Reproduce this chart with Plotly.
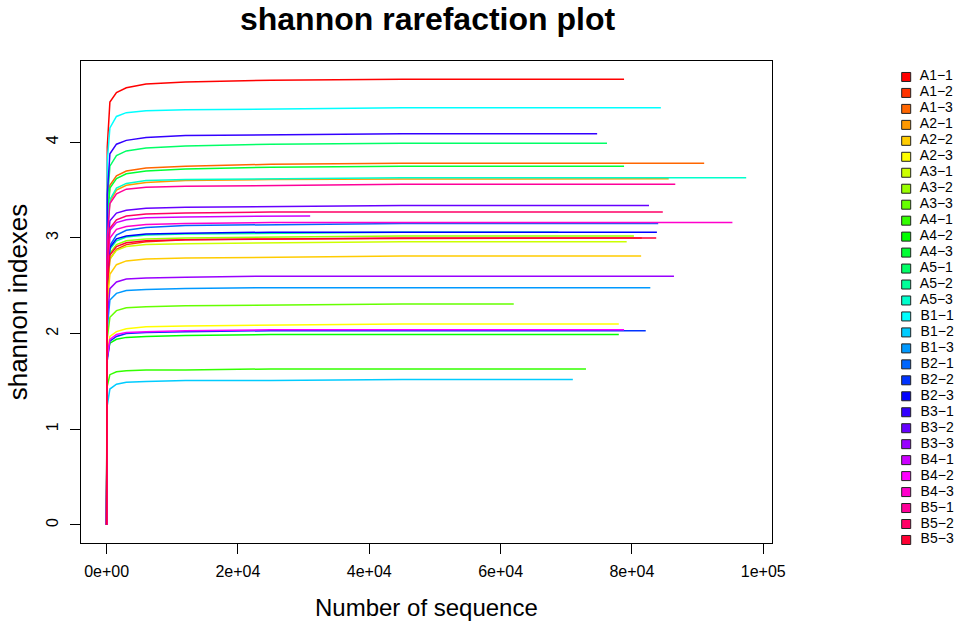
import colorsys
import plotly.graph_objects as go

# sample names, in legend order
names = ["A1-1", "A1-2", "A1-3", "A2-1", "A2-2", "A2-3", "A3-1", "A3-2", "A3-3",
         "A4-1", "A4-2", "A4-3", "A5-1", "A5-2", "A5-3",
         "B1-1", "B1-2", "B1-3", "B2-1", "B2-2", "B2-3", "B3-1", "B3-2", "B3-3",
         "B4-1", "B4-2", "B4-3", "B5-1", "B5-2", "B5-3"]

depths = [0, 100, 500, 1500, 3000, 6000, 12000, 25000, 45000]

# shannon index at each depth, one list per sample
shannon = {
    "A1-1": [0, 3.95, 4.42, 4.52, 4.57, 4.61, 4.63, 4.65, 4.66],
    "A1-2": [0, 2.45, 2.78, 2.88, 2.93, 2.96, 2.98, 2.99, 2.995],
    "A1-3": [0, 3.20, 3.55, 3.65, 3.70, 3.73, 3.75, 3.77, 3.78],
    "A2-1": [0, 3.05, 3.38, 3.50, 3.55, 3.58, 3.60, 3.61, 3.615],
    "A2-2": [0, 2.30, 2.62, 2.72, 2.76, 2.78, 2.79, 2.80, 2.81],
    "A2-3": [0, 1.80, 1.97, 2.02, 2.05, 2.07, 2.08, 2.09, 2.10],
    "A3-1": [0, 2.45, 2.78, 2.87, 2.91, 2.93, 2.94, 2.95, 2.96],
    "A3-2": [0, 2.50, 2.84, 2.93, 2.97, 2.99, 3.00, 3.01, 3.02],
    "A3-3": [0, 1.95, 2.17, 2.24, 2.27, 2.28, 2.29, 2.30, 2.31],
    "A4-1": [0, 1.45, 1.57, 1.60, 1.61, 1.62, 1.62, 1.63, 1.63],
    "A4-2": [0, 1.75, 1.90, 1.94, 1.96, 1.97, 1.98, 1.99, 1.99],
    "A4-3": [0, 3.15, 3.52, 3.62, 3.67, 3.70, 3.72, 3.74, 3.75],
    "A5-1": [0, 3.35, 3.75, 3.86, 3.91, 3.94, 3.96, 3.98, 3.99],
    "A5-2": [0, 2.55, 2.88, 2.97, 3.01, 3.03, 3.04, 3.05, 3.06],
    "A5-3": [0, 3.05, 3.40, 3.52, 3.57, 3.60, 3.61, 3.62, 3.63],
    "B1-1": [0, 3.80, 4.15, 4.27, 4.31, 4.33, 4.34, 4.35, 4.36],
    "B1-2": [0, 1.25, 1.42, 1.47, 1.49, 1.50, 1.51, 1.51, 1.52],
    "B1-3": [0, 2.05, 2.35, 2.42, 2.45, 2.46, 2.47, 2.48, 2.48],
    "B2-1": [0, 2.55, 2.92, 3.03, 3.08, 3.11, 3.13, 3.14, 3.15],
    "B2-2": [0, 1.72, 1.92, 1.97, 2.00, 2.01, 2.02, 2.03, 2.03],
    "B2-3": [0, 2.55, 2.90, 2.99, 3.02, 3.04, 3.05, 3.06, 3.06],
    "B3-1": [0, 3.45, 3.88, 3.98, 4.02, 4.05, 4.07, 4.08, 4.09],
    "B3-2": [0, 2.85, 3.18, 3.26, 3.29, 3.31, 3.32, 3.33, 3.34],
    "B3-3": [0, 2.15, 2.47, 2.54, 2.57, 2.58, 2.59, 2.60, 2.60],
    "B4-1": [0, 2.75, 3.08, 3.16, 3.19, 3.21, 3.22, 3.23],
    "B4-2": [0, 1.75, 1.94, 1.99, 2.01, 2.02, 2.03, 2.04, 2.04],
    "B4-3": [0, 2.65, 3.00, 3.09, 3.12, 3.14, 3.15, 3.16, 3.16],
    "B5-1": [0, 3.00, 3.36, 3.46, 3.51, 3.53, 3.54, 3.55, 3.56],
    "B5-2": [0, 2.75, 3.10, 3.19, 3.23, 3.25, 3.26, 3.27, 3.27],
    "B5-3": [0, 2.50, 2.82, 2.91, 2.95, 2.97, 2.98, 2.99, 3.00],
}

# last depth of each curve and its final index
end_depth = [78800, 81500, 91000, 85600, 81400, 78000, 79200, 80300, 62000,
             73000, 78000, 78800, 76200, 68800, 97400,
             84400, 71000, 82800, 84000, 82100, 83800, 74700, 82600, 86400,
             31000, 78800, 95300, 86600, 84700, 83700]
end_value = [4.66, 3.00, 3.78, 3.62, 2.81, 2.10, 2.96, 3.02, 2.31,
             1.63, 1.99, 3.75, 3.99, 3.06, 3.63,
             4.36, 1.52, 2.48, 3.15, 2.03, 3.06, 4.09, 3.34, 2.60,
             3.23, 2.04, 3.16, 3.56, 3.27, 3.00]

x_ticks = [0, 20000, 40000, 60000, 80000, 100000]
x_ticktext = ["0e+00", "2e+04", "4e+04", "6e+04", "8e+04", "1e+05"]
y_ticks = [0, 1, 2, 3, 4]

# R's rainbow(30)
def rainbow(n):
    out = []
    for i in range(n):
        r, g, b = colorsys.hsv_to_rgb(i / n, 1, 1)
        out.append("rgb(%d,%d,%d)" % (round(r * 255), round(g * 255), round(b * 255)))
    return out

colors = rainbow(len(names))
FONT = "Liberation Sans, Arial, Helvetica, sans-serif"

fig = go.Figure()

for i, nm in enumerate(names):
    ys = shannon[nm]
    xs = depths[:len(ys)] + [end_depth[i]]
    ys = ys + [end_value[i]]
    fig.add_trace(go.Scatter(x=xs, y=ys, mode="lines", name=nm,
                             line=dict(color=colors[i], width=1.5),
                             showlegend=False, xaxis="x", yaxis="y"))

# legend drawn as a small side panel: squares plus labels
fig.add_trace(go.Scatter(
    x=[15] * len(names), y=list(range(len(names))),
    mode="markers+text",
    text=["  " + n.replace("-", "\u2212") for n in names],
    textposition="middle right",
    textfont=dict(family=FONT, size=14, color="black"),
    marker=dict(symbol="square", size=9, color=colors,
                line=dict(color="#222222", width=1)),
    showlegend=False, hoverinfo="skip", cliponaxis=False,
    xaxis="x2", yaxis="y2"))

axis_common = dict(showline=True, mirror=True, linecolor="black", linewidth=1.3,
                   ticks="outside", ticklen=10, tickwidth=1.3, tickcolor="black",
                   showgrid=False, zeroline=False,
                   tickfont=dict(family=FONT, size=16, color="black"))

fig.update_layout(
    width=957, height=624, autosize=False,
    margin=dict(l=81, r=0, t=61, b=81),
    paper_bgcolor="white", plot_bgcolor="white",
    title=dict(text="<b>shannon rarefaction plot</b>", x=0.402, xref="paper",
               y=0.9696, yref="container", yanchor="middle", xanchor="center",
               font=dict(family=FONT, size=32, color="black")),
    xaxis=dict(domain=[0, 0.8014], range=[-3900, 101300],
               tickvals=x_ticks, ticktext=x_ticktext, ticklabelstandoff=4,
               title=dict(text="Number of sequence", standoff=19,
                          font=dict(family=FONT, size=24, color="black")),
               **axis_common),
    yaxis=dict(range=[-0.19, 4.85], tickvals=y_ticks, tickangle=-90,
               ticklabelstandoff=5,
               title=dict(text="shannon indexes", standoff=9,
                          font=dict(family=FONT, size=26, color="black")),
               **axis_common),
    xaxis2=dict(domain=[0.94, 1], range=[0, 52], visible=False,
                anchor="y2"),
    yaxis2=dict(domain=[0, 1], range=[29.19, -1.0], visible=False,
                anchor="x2"),
)

# drop the page's default body margin so the figure sits at the window corner
fig.write_html("out.html", config={"responsive": False, "displayModeBar": False},
               post_script=(
                   "document.body.style.margin='0';"
                   "document.body.style.overflow='hidden';"))
